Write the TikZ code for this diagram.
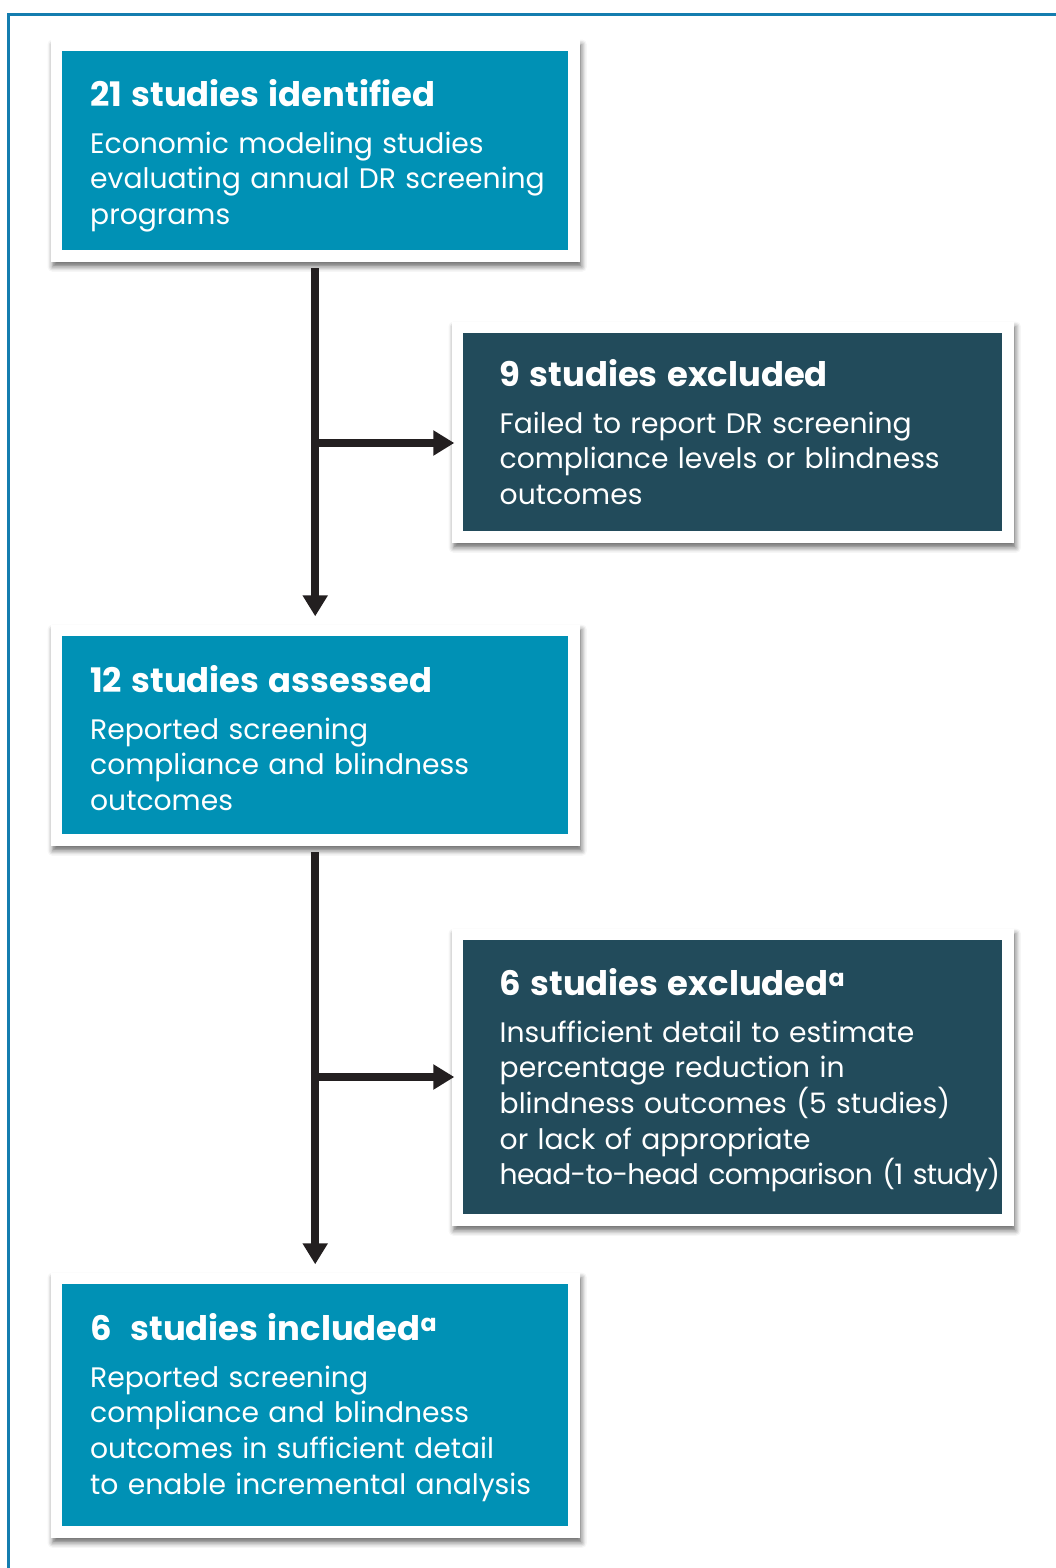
\documentclass[tikz,border=0pt]{standalone}
\usepackage{fontspec}
\setmainfont{Poppins}
\usetikzlibrary{arrows.meta,fit,backgrounds,shadows.blur}
\definecolor{tealbox}{RGB}{0,145,181}
\definecolor{darkbox}{RGB}{34,75,91}
\definecolor{framecol}{RGB}{20,125,175}
\definecolor{arrowcol}{RGB}{35,31,32}
\begin{document}
\begin{tikzpicture}[x=1pt,y=-1pt,
  panel/.style={anchor=north west, inner sep=0pt, minimum width=#1},
  lightbox/.style={panel=506pt, fill=tealbox},
  darkbx/.style={panel=539pt, fill=darkbox},
  boxtext/.style={anchor=north west, inner sep=0pt, align=left, text=white,
    text width=600pt, font=\fontsize{28.2}{35.6}\selectfont},
  frm/.style={fill=white, inner sep=11.5pt,
    blur shadow={shadow xshift=2pt, shadow yshift=-5pt, shadow blur radius=5pt, shadow opacity=55}},
  conn/.style={draw=arrowcol, line width=7.5pt, -{Triangle[length=21pt,width=24pt]}}]
\useasboundingbox (0,0) rectangle (1055,1568);
\draw[framecol, line width=3pt] (8,1570) -- (8,15) -- (1057,15);

\newcommand{\hdg}[1]{{\bfseries\fontsize{33.8}{33.8}\selectfont\rule{0pt}{28pt}#1}\\[11.4pt]}

\node[lightbox, minimum height=199pt] (b1) at (62,51) {};
\node[darkbx, minimum height=198pt] (b2) at (463,333) {};
\node[lightbox, minimum height=198pt] (b3) at (62,636) {};
\node[darkbx, minimum height=274pt] (b4) at (463,940) {};
\node[lightbox, minimum height=242pt] (b5) at (62,1284) {};

\node[boxtext] (t1) at ([shift={(28pt,-27pt)}]b1.north west) {\hdg{21 studies identified}Economic modeling studies\\evaluating annual DR screening\\programs};
\node[boxtext] (t2) at ([shift={(36.5pt,-25pt)}]b2.north west) {\hdg{9 studies excluded}Failed to report DR screening\\compliance levels or blindness\\outcomes};
\node[boxtext] (t3) at ([shift={(28pt,-28pt)}]b3.north west) {\hdg{12 studies assessed}Reported screening\\compliance and blindness\\outcomes};
\node[boxtext] (t4) at ([shift={(36.5pt,-27pt)}]b4.north west) {\hdg{6 studies excluded\textsuperscript{a}}Insufficient detail to estimate\\percentage reduction in\\blindness outcomes (5 studies)\\or lack of appropriate\\{\addfontfeature{LetterSpace=-2.4}head-to-head comparison (1 study)}};
\node[boxtext] (t5) at ([shift={(28pt,-28pt)}]b5.north west) {\hdg{6\ \ studies included\textsuperscript{a}}Reported screening\\compliance and blindness\\outcomes in sufficient detail\\to enable incremental analysis};

\begin{scope}[on background layer]
\node[frm, fit=(b1)] (f1) {};
\node[frm, fit=(b2)] (f2) {};
\node[frm, fit=(b3)] (f3) {};
\node[frm, fit=(b4)] (f4) {};
\node[frm, fit=(b5)] (f5) {};
\end{scope}

\coordinate (j1) at (315,443);
\coordinate (j2) at (315,1077);
\draw[conn, shorten <=6pt, shorten >=8pt] (f1.south) -- (f3.north);
\draw[conn, shorten >=-3pt] (j1) -- (j1 -| f2.west);
\draw[conn, shorten <=6pt, shorten >=8pt] (f3.south) -- (f5.north);
\draw[conn, shorten >=-3pt] (j2) -- (j2 -| f4.west);
\end{tikzpicture}
\end{document}
